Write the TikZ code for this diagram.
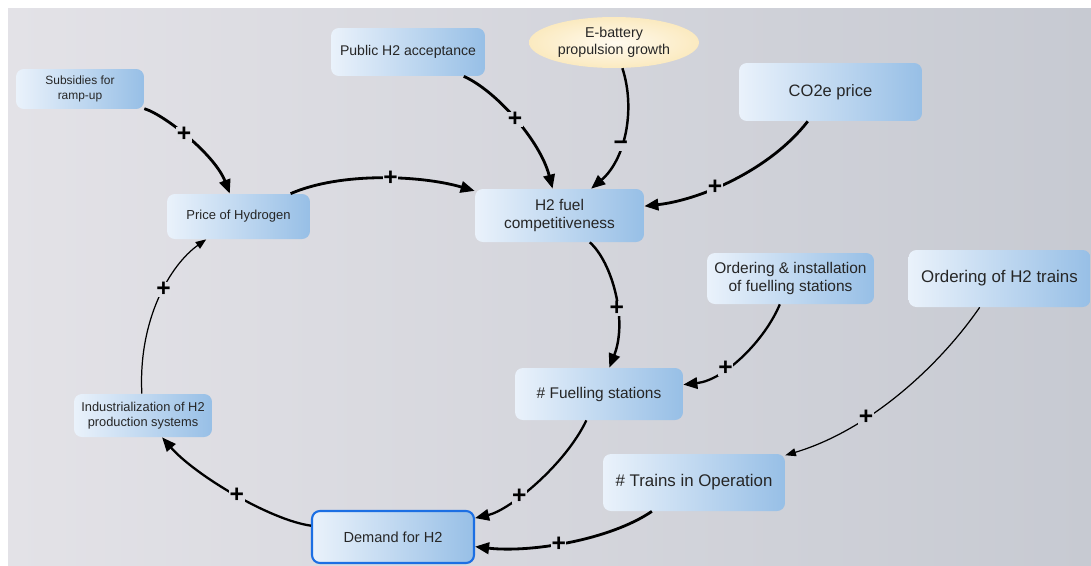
\documentclass[tikz,border=0pt]{standalone}
\usepackage{fontspec}
\setmainfont{Liberation Sans}
\usetikzlibrary{arrows.meta, shapes.geometric}

\definecolor{bgL}{HTML}{E3E2E7}
\definecolor{bgR}{HTML}{C7CAD2}
\definecolor{boxL}{HTML}{EAF2FB}
\definecolor{boxR}{HTML}{97BFE6}
\definecolor{ovalIn}{HTML}{FFFAEF}
\definecolor{ovalOut}{HTML}{FBEAC0}
\definecolor{txt}{HTML}{262626}
\definecolor{demblue}{HTML}{1C6FE3}

\tikzset{
  fs/.style 2 args={font=\fontsize{#1}{#2}\selectfont},
  box/.style={rectangle, rounded corners=4.5pt, left color=boxL, right color=boxR,
    text=txt, align=center, inner sep=2pt},
  oval/.style={ellipse, inner color=ovalIn, outer color=ovalOut, text=txt,
    align=center, inner sep=1pt},
  link/.style={line width=1.6pt, -{Triangle[length=8pt,width=6.5pt]}},
  thinlink/.style={line width=0.7pt, -{Triangle[length=6pt,width=4.5pt]}},
  sign/.style={font=\bfseries\fontsize{14}{14}\selectfont, inner sep=0.3pt, fill=bgR!#1!bgL},
}

\begin{document}
\begin{tikzpicture}[x=0.02cm, y=-0.02cm]
  \useasboundingbox (0,0) rectangle (1091,565);
  \fill[white] (0,0) rectangle (1091,565);
  \shade[left color=bgL, right color=bgR] (8,8) rectangle (1091,565);

  \node[box, fs={6.8}{8.2}, minimum width=2.56cm, minimum height=0.8cm] (subs) at (80,89) {Subsidies for\\ramp-up};
  \node[box, fs={7.4}{8.9}, minimum width=2.86cm, minimum height=0.9cm] (price) at (238.5,216.5) {Price of Hydrogen};
  \node[box, fs={8}{9.6}, minimum width=3.08cm, minimum height=0.96cm] (pub) at (408,52) {Public H2 acceptance};
  \node[oval, fs={8.1}{9.7}, minimum width=3.4cm, minimum height=1.02cm] (ebat) at (614,42.5) {E-battery\\propulsion growth};
  \node[box, fs={9.4}{11.3}, minimum width=3.66cm, minimum height=1.16cm] (co2) at (830.5,92) {CO2e price};
  \node[box, fs={8.8}{10.6}, minimum width=3.38cm, minimum height=1.06cm] (h2f) at (559.5,215.5) {H2 fuel\\competitiveness};
  \node[box, fs={8.8}{10.2}, minimum width=3.34cm, minimum height=1.02cm] (ordI) at (790.5,278.5) {Ordering \& installation\\of fuelling stations};
  \node[box, fs={9.6}{11.5}, minimum width=3.64cm, minimum height=1.14cm] (ordT) at (999.5,278.5) {Ordering of H2 trains};
  \node[box, fs={8.8}{10.6}, minimum width=3.36cm, minimum height=1.04cm] (fuel) at (599,394) {\# Fuelling stations};
  \node[box, fs={9.6}{11.5}, minimum width=3.64cm, minimum height=1.14cm] (trains) at (694,482.5) {\# Trains in Operation};
  \node[box, fs={7.3}{8.8}, minimum width=2.76cm, minimum height=0.86cm] (ind) at (143,415.5) {Industrialization of H2\\production systems};
  \node[box, fs={8.3}{10}, draw=demblue, line width=1.2pt, minimum width=3.24cm, minimum height=1.04cm] (dem) at (393,537) {Demand for H2};

  \draw[link] (subs) .. controls (165,115) and (215,155) .. (price) node[sign=17, pos=.45] {+};
  \draw[link] (price) .. controls (340,172) and (420,175) .. (h2f) node[sign=35, pos=.55] {+};
  \draw[link] (pub) .. controls (495,90) and (540,140) .. (h2f) node[sign=47, pos=.5] {+};
  \draw[link, line width=1.4pt] (ebat) .. controls (636,110) and (625,160) .. (h2f) node[sign=57, pos=.6] {−};
  \draw[link] (co2) .. controls (770,170) and (700,200) .. (h2f) node[sign=65, pos=.6] {+};
  \draw[link, line width=1.4pt] (h2f) .. controls (612,262) and (628,320) .. (fuel) node[sign=56, pos=.6] {+};
  \draw[link, line width=1.3pt] (ordI) .. controls (765,340) and (725,380) .. (fuel) node[sign=66, pos=.65] {+};
  \draw[thinlink] (ordT) .. controls (940,365) and (870,430) .. (trains) node[sign=79, pos=.66] {+};
  \draw[link, line width=1.3pt] (fuel) .. controls (565,465) and (510,510) .. (dem) node[sign=48, pos=.63] {+};
  \draw[link] (trains) .. controls (610,540) and (530,553) .. (dem) node[sign=51, pos=.55] {+};
  \draw[link, line width=1.3pt] (dem) .. controls (270,520) and (195,475) .. (ind) node[sign=21, pos=.48] {+};
  \draw[thinlink] (ind) .. controls (138,320) and (170,265) .. (price) node[sign=14, pos=.56] {+};
\end{tikzpicture}
\end{document}
